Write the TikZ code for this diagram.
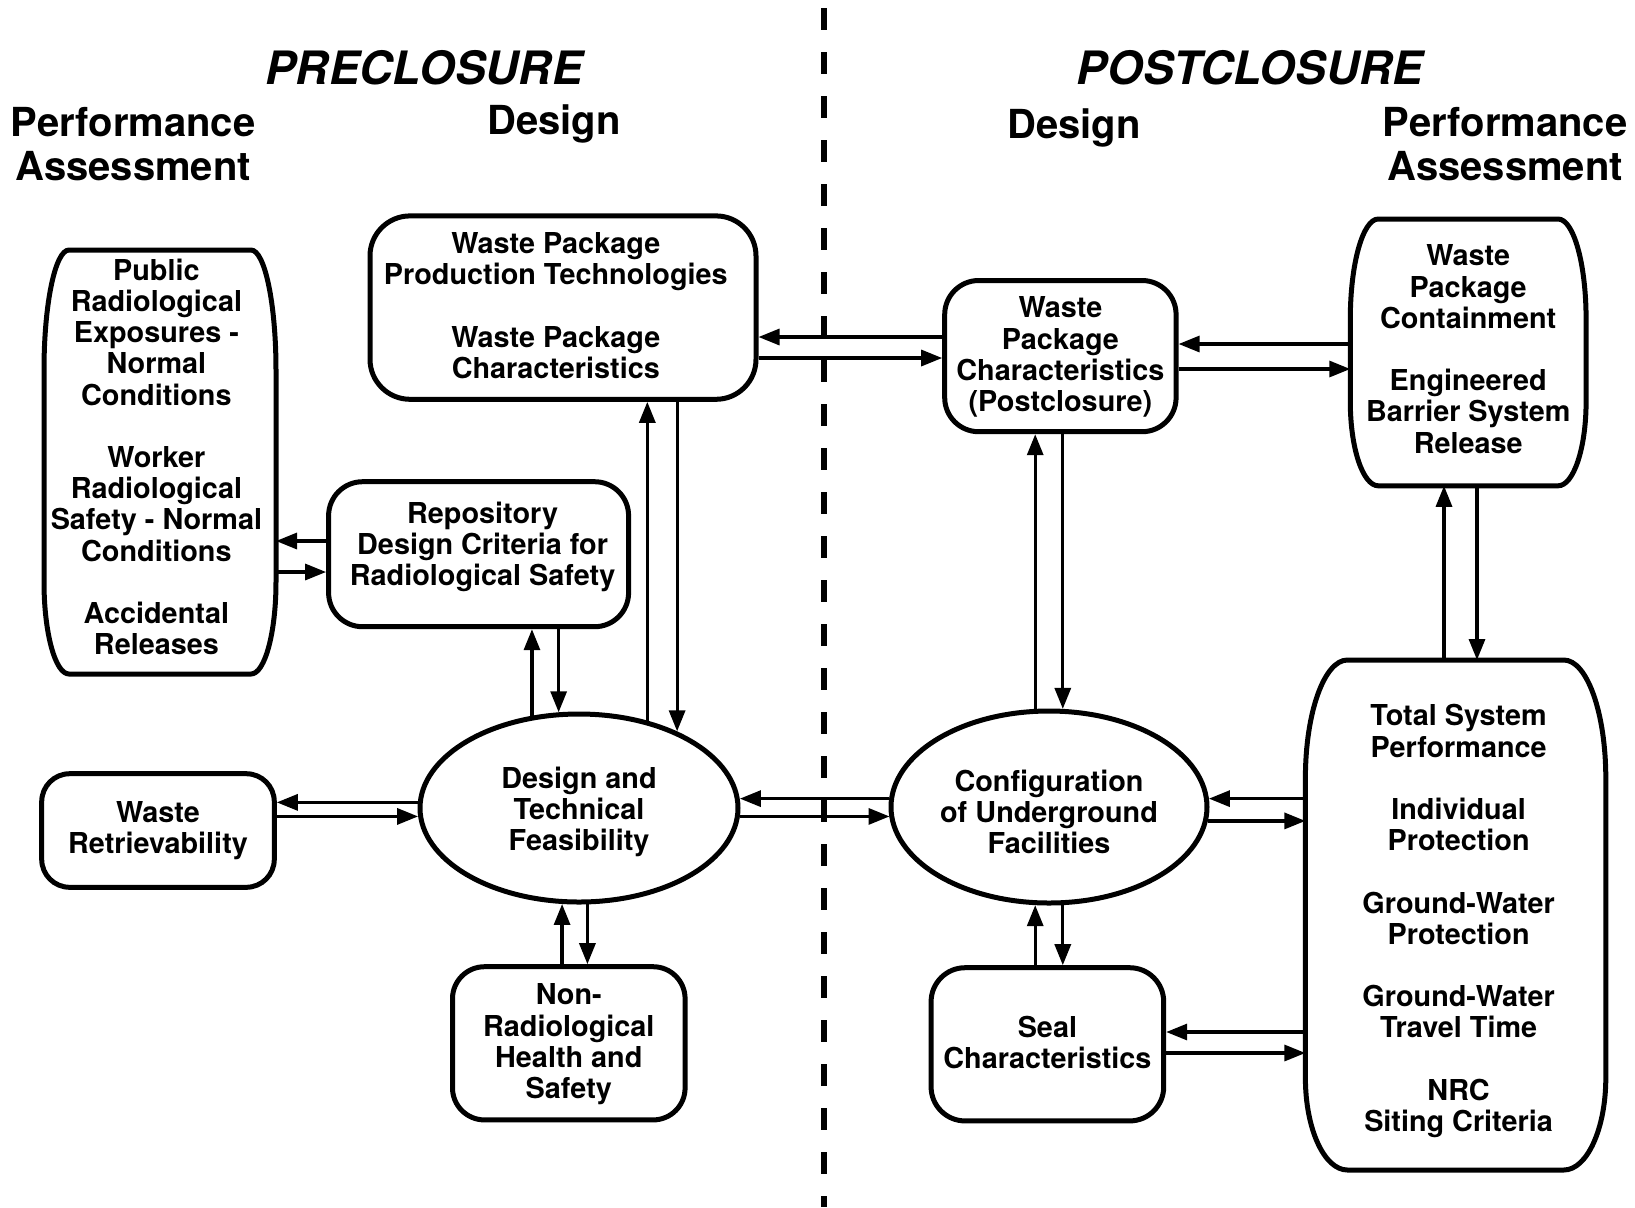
\documentclass[tikz,border=0pt]{standalone}
\usepackage{fontspec}
\setmainfont{TeX Gyre Heros}
\usetikzlibrary{arrows.meta,shapes.geometric,calc}
% barrel-shaped box: #1 node, #2 rx, #3 top ry, #4 bottom ry
\newcommand\barrelbox[4]{%
  \draw[boxline] let \p1=(#1.north west), \p2=(#1.south east) in
   (\x1+#2,\y1) -- (\x2-#2,\y1)
   .. controls (\x2-0.448*#2,\y1) and (\x2,\y1-0.448*#3) .. (\x2,\y1-#3)
   -- (\x2,\y2+#4)
   .. controls (\x2,\y2+0.448*#4) and (\x2-0.448*#2,\y2) .. (\x2-#2,\y2)
   -- (\x1+#2,\y2)
   .. controls (\x1+0.448*#2,\y2) and (\x1,\y2+0.448*#4) .. (\x1,\y2+#4)
   -- (\x1,\y1-#3)
   .. controls (\x1,\y1-0.448*#3) and (\x1+0.448*#2,\y1) .. cycle;}
\begin{document}
\begin{tikzpicture}[x=0.5pt,y=-0.5pt,
  boxline/.style={line width=2.5pt},
  txt/.style={font=\fontsize{14.4}{15.6}\selectfont\bfseries, align=center, inner sep=0pt},
  rbox/.style={draw, boxline, rounded corners=16pt, inner sep=0pt},
  bbox/.style={inner sep=0pt, outer sep=0pt},
  ell/.style={draw, boxline, ellipse, inner sep=0pt},
  arr/.style={line width=1.6pt, -{Triangle[length=10.5pt,width=8pt]}},
  hdr/.style={font=\fontsize{20}{22}\selectfont\bfseries, align=center},
  ttl/.style={font=\fontsize{23}{26}\selectfont\bfseries\itshape},
]
\useasboundingbox (0,0) rectangle (1635,1207);

% headings
\node[ttl] (pre) at (424,68) {PRECLOSURE};
\node[ttl] (post) at (1250,68) {POSTCLOSURE};
\node[hdr] (pal) at (133,144) {Performance\\Assessment};
\node[hdr] (dl) at (554,124) {Design};
\node[hdr] (dr) at (1074,128) {Design};
\node[hdr] (par) at (1505,144) {Performance\\Assessment};

% divider
\draw[line width=2.6pt, dash pattern=on 11pt off 11pt] (824,8) -- (824,1207);

% boxes
\node[bbox, minimum width=116pt, minimum height=212pt] (public) at (160,462) {};
\barrelbox{public}{12.5pt}{60pt}{46pt}
\node[txt] (public-t) at ([shift={(-1.8pt,2.6pt)}]public.center)
  {Public\\Radiological\\Exposures -\\Normal\\Conditions\\[15.6pt]Worker\\Radiological\\Safety - Normal\\Conditions\\[15.6pt]Accidental\\Releases};

\node[rbox, rounded corners=17pt, minimum width=150pt, minimum height=72.5pt] (repos) at (478.6,554.2) {};
\node[txt] (repos-t) at ([shift={(2pt,3.7pt)}]repos.center)
  {Repository\\Design Criteria for\\Radiological Safety};

\node[rbox, rounded corners=20pt, minimum width=193pt, minimum height=91.7pt] (wpprod) at (563,307.6) {};
\node[txt] (wpprod-t) at ([shift={(-3.6pt,1pt)}]wpprod.center)
  {Waste Package\\Production Technologies\\[15.6pt]Waste Package\\Characteristics};

\node[rbox, rounded corners=14pt, minimum width=116.3pt, minimum height=56.8pt] (retr) at (158,830.5) {};
\node[txt] (retr-t) at (retr.center) {Waste\\Retrievability};

\node[ell, minimum width=159pt, minimum height=94pt] (design) at (579,808) {};
\node[txt] (design-t) at ([shift={(0pt,-2.1pt)}]design.center) {Design and\\Technical\\Feasibility};

\node[rbox, minimum width=116.3pt, minimum height=76.6pt] (nonrad) at (568.8,1043.3) {};
\node[txt] (nonrad-t) at ([shift={(0pt,-0.5pt)}]nonrad.center) {Non-\\Radiological\\Health and\\Safety};

\node[rbox, rounded corners=17pt, minimum width=115.7pt, minimum height=75.6pt] (wpchar) at (1060.4,356.1) {};
\node[txt] (wpchar-t) at ([shift={(0pt,-0.5pt)}]wpchar.center)
  {Waste\\Package\\Characteristics\\(Postclosure)};

\node[bbox, minimum width=117.9pt, minimum height=133.4pt] (cont) at (1468.2,352.4) {};
\barrelbox{cont}{14pt}{50pt}{42pt}
\node[txt] (cont-t) at ([shift={(0pt,1.6pt)}]cont.center)
  {Waste\\Package\\Containment\\[15.6pt]Engineered\\Barrier System\\Release};

\node[ell, minimum width=158pt, minimum height=96pt] (config) at (1049,807) {};
\node[txt] (config-t) at ([shift={(0pt,-2.3pt)}]config.center)
  {Configuration\\of Underground\\Facilities};

\node[rbox, rounded corners=17pt, minimum width=116.3pt, minimum height=76.6pt] (seal) at (1047.4,1044.3) {};
\node[txt] (seal-t) at ([shift={(0pt,1pt)}]seal.center) {Seal\\Characteristics};

\node[bbox, minimum width=150.2pt, minimum height=255pt] (total) at (1455.6,915) {};
\barrelbox{total}{21pt}{59pt}{46pt}
\node[txt] (total-t) at ([shift={(1.5pt,-3.1pt)}]total.center)
  {Total System\\Performance\\[15.6pt]Individual\\Protection\\[15.6pt]Ground-Water\\Protection\\[15.6pt]Ground-Water\\Travel Time\\[15.6pt]NRC\\Siting Criteria};

% helper levels
\coordinate (yA) at (0,541);
\coordinate (yB) at (0,572);
\coordinate (yC) at (0,337);
\coordinate (yD) at (0,358);
\coordinate (yE) at (0,344);
\coordinate (yF) at (0,369);
\coordinate (yG) at (0,1032);
\coordinate (yH) at (0,1053);
\coordinate (xA) at (1444,0);
\coordinate (xB) at (1477,0);

% connectors
\draw[arr] (repos.west |- yA) -- (public.east |- yA);
\draw[arr] (public.east |- yB) -- (repos.west |- yB);

\draw[arr] (design.117) -- (repos.south -| design.117);
\draw[arr] (repos.south -| design.102) -- (design.102);

\draw[arr] (design.52) -- (wpprod.south -| design.52);
\draw[arr] (wpprod.south -| design.38) -- (design.38);

\draw[arr] (wpchar.west |- yC) -- (wpprod.east |- yC);
\draw[arr] (wpprod.east |- yD) -- (wpchar.west |- yD);

\draw[arr] (cont.west |- yE) -- (wpchar.east |- yE);
\draw[arr] (wpchar.east |- yF) -- (cont.west |- yF);

\draw[arr] (config.98) -- (wpchar.south -| config.98);
\draw[arr] (wpchar.south -| config.82) -- (config.82);

\draw[arr] (total.north -| xA) -- (cont.south -| xA);
\draw[arr] (cont.south -| xB) -- (total.north -| xB);

\draw[arr] (design.178) -- (retr.east |- design.178);
\draw[arr] (retr.east |- design.183) -- (design.183);

\draw[arr] (config.177) -- (design.3 |- config.177);
\draw[arr] (design.357) -- (config.184 |- design.357);

\draw[arr] (total.west |- config.3) -- (config.3);
\draw[arr] (config.355) -- (total.west |- config.355);

\draw[arr] (nonrad.north -| design.260) -- (design.260);
\draw[arr] (design.275) -- (nonrad.north -| design.275);

\draw[arr] (seal.north -| config.262) -- (config.262);
\draw[arr] (config.278) -- (seal.north -| config.278);

\draw[arr] (total.west |- yG) -- (seal.east |- yG);
\draw[arr] (seal.east |- yH) -- (total.west |- yH);
\end{tikzpicture}
\end{document}
